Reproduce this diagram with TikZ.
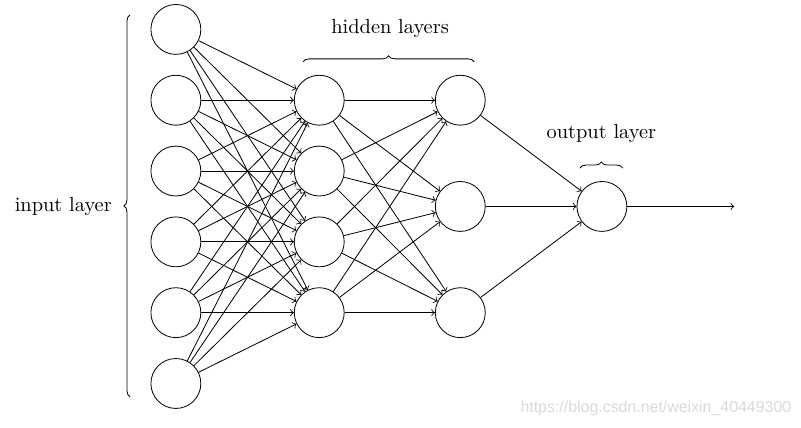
\documentclass[tikz,border=0pt]{standalone}
\usepackage{fontspec}
\newfontfamily\markfont{Liberation Sans}
\usetikzlibrary{decorations.pathreplacing,positioning}

\begin{document}
\begin{tikzpicture}[
  neuron/.style={circle,draw,minimum size=0.86cm,inner sep=0pt},
  conn/.style={->},
  layerbrace/.style={decorate,decoration={brace,amplitude=3pt}}
]
\useasboundingbox (0,0) rectangle (13.80,7.357);

% input layer
\foreach \i in {1,...,6}
  \node[neuron] (in-\i) at (3.03,{3.80+(3.5-\i)*1.22}) {};
% hidden layers
\foreach \i in {1,...,4}
  \node[neuron] (hida-\i) at (5.50,{3.80+(2.5-\i)*1.22}) {};
\foreach \i in {1,...,3}
  \node[neuron] (hidb-\i) at (7.93,{3.80+(2-\i)*1.83}) {};
% output layer
\node[neuron] (out) at (10.37,3.80) {};
\coordinate (out-end) at (12.65,3.80);

% connections
\foreach \i in {1,...,6}
  \foreach \j in {1,...,4}
    \draw[conn] (in-\i) -- (hida-\j);
\foreach \i in {1,...,4}
  \foreach \j in {1,...,3}
    \draw[conn] (hida-\i) -- (hidb-\j);
\foreach \i in {1,...,3}
  \draw[conn] (hidb-\i) -- (out);
\draw[conn] (out) -- (out-end);

% braces and labels
\coordinate (inbr-a) at (2.24,0.52);
\coordinate (inbr-b) at (2.24,7.10);
\draw[layerbrace] (inbr-a) -- (inbr-b);
\node (inlabel) at (1.09,3.80) {input layer};

\coordinate (hidbr-a) at (5.22,6.29);
\coordinate (hidbr-b) at (8.17,6.29);
\draw[layerbrace] (hidbr-a) -- (hidbr-b);
\node (hidlabel) at (6.72,6.87) {hidden layers};

\coordinate (outbr-a) at (9.99,4.46);
\coordinate (outbr-b) at (10.73,4.46);
\draw[layerbrace] (outbr-a) -- (outbr-b);
\node (outlabel) at (10.36,5.05) {output layer};

\node[text=gray!30,font=\markfont\fontsize{7.8}{9}\selectfont] (watermark)
  at (11.30,0.327) {https://blog.csdn.net/weixin\_40449300};
\end{tikzpicture}
\end{document}
